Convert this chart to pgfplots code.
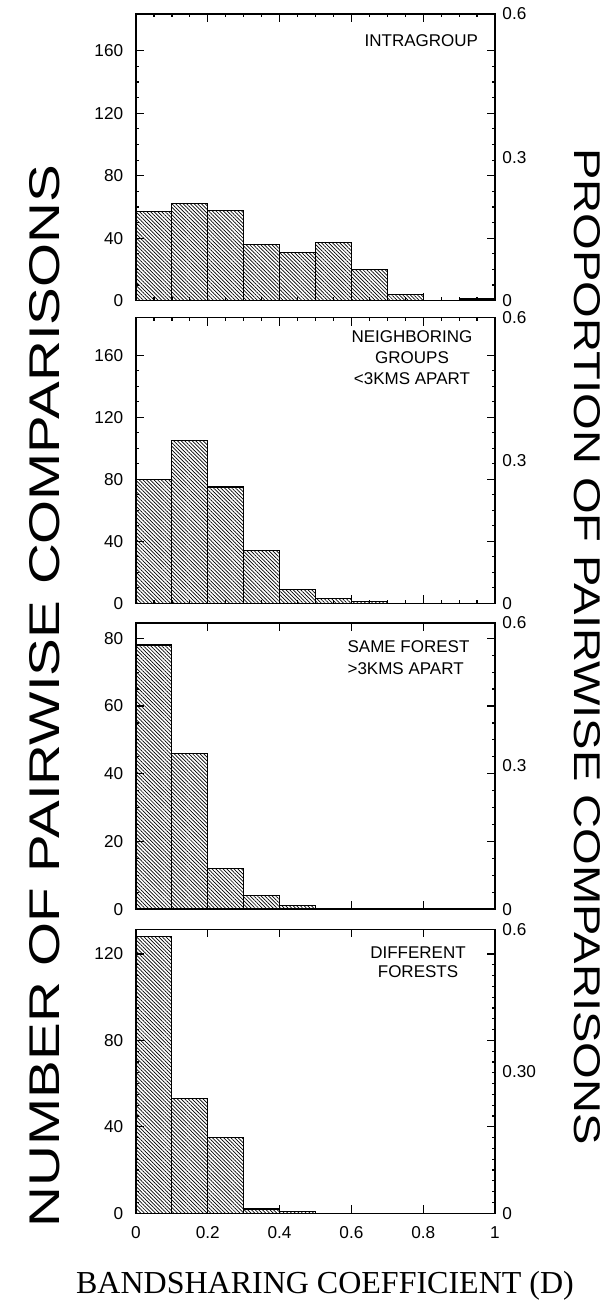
\documentclass[border=0pt]{standalone}
\usepackage{pgfplots}
\pgfplotsset{compat=1.18}
\usepackage{graphicx}
\usepackage{fontspec}
\setmainfont{Liberation Sans}
\newfontfamily\labelserif{Liberation Serif}
\usetikzlibrary{patterns.meta}

\pgfplotsset{
  panel/.style={
    scale only axis, width=179.5pt, anchor=north west,
    xmin=0, xmax=1, ymin=0,
    line width=0.8pt,
    every tick/.style={black, line width=0.6pt},
    major tick length=4pt, minor tick length=1.6pt,
    tick align=inside,
    xtick={0,0.2,0.4,0.6,0.8,1}, xticklabels={},
    /pgf/number format/assume math mode=true,
    tick label style={font=\fontsize{8.6pt}{10pt}\selectfont},
    yticklabel style={xshift=-2.7pt},
    xticklabel style={yshift=-3pt},
  },
  prop/.style={
    scale only axis, width=179.5pt, anchor=north west,
    xmin=0, xmax=1, ymin=0, ymax=0.6,
    axis x line=none, axis y line*=right,
    line width=0.8pt,
    ytick={0,0.3,0.6}, major tick length=0pt,
    tick label style={font=\fontsize{8.6pt}{10pt}\selectfont},
  },
  bars/.style={
    ybar interval, draw=black, line width=0.55pt,
    pattern={Lines[angle=-45, distance=1.3pt, line width=0.35pt]},
  },
}

\begin{document}
\begin{tikzpicture}
\path[use as bounding box] (0,0) rectangle (307.5pt,-652pt);

% Intragroup comparisons (N = 306)
\begin{axis}[panel, at={(68pt,-7pt)}, height=143.3pt, ymax=183.6,
  ytick={0,40,80,120,160}, minor y tick num=3, minor x tick num=3]
\addplot[bars] coordinates {(0,57) (0.1,62) (0.2,58) (0.3,36) (0.4,31)
  (0.5,37) (0.6,20) (0.7,4) (0.8,0) (0.9,1) (1.0,1)};
\end{axis}
\begin{axis}[prop, at={(68pt,-7pt)}, height=143.3pt, yticklabels={0,0.3,0.6}]
\end{axis}

% Neighboring groups (N = 307)
\begin{axis}[panel, at={(68pt,-158.85pt)}, height=142.8pt, ymax=184.2,
  ytick={0,40,80,120,160}, minor y tick num=3, minor x tick num=3]
\addplot[bars] coordinates {(0,80) (0.1,105) (0.2,75) (0.3,34) (0.4,9)
  (0.5,3) (0.6,1) (0.7,1)};
\end{axis}
\begin{axis}[prop, at={(68pt,-158.85pt)}, height=142.8pt, yticklabels={0,0.3,0.6}]
\end{axis}

% Same forest (N = 141)
\begin{axis}[panel, at={(68pt,-311.35pt)}, height=143.2pt, ymax=84.6,
  ytick={0,20,40,60,80}, minor y tick num=3]
\addplot[bars] coordinates {(0,78) (0.1,46) (0.2,12) (0.3,4) (0.4,1) (0.5,1)};
\end{axis}
\begin{axis}[prop, at={(68pt,-311.35pt)}, height=143.2pt, yticklabels={0,0.3,0.6}]
\end{axis}

% Different forests (N = 219)
\begin{axis}[panel, at={(68pt,-464.65pt)}, height=142pt, ymax=131.4,
  ytick={0,40,80,120}, minor y tick num=7,
  xticklabels={0,0.2,0.4,0.6,0.8,1}]
\addplot[bars] coordinates {(0,128) (0.1,53) (0.2,35) (0.3,2) (0.4,1) (0.5,1)};
\end{axis}
\begin{axis}[prop, at={(68pt,-464.65pt)}, height=142pt, yticklabels={0,0.30,0.6}]
\end{axis}

% panel captions
\begin{scope}[every node/.style={inner sep=0pt, font=\fontsize{8.5pt}{10pt}\selectfont}]
\node[anchor=base east] at (239.2pt,-23.35pt) {INTRAGROUP};
\node[anchor=base] at (206pt,-171.35pt) {NEIGHBORING};
\node[anchor=base] at (206pt,-182pt) {GROUPS};
\node[anchor=base] at (206pt,-192.35pt) {<3KMS APART};
\node[anchor=base west] at (173.6pt,-326.35pt) {SAME FOREST};
\node[anchor=base west] at (173.6pt,-337pt) {>3KMS APART};
\node[anchor=base] at (209pt,-479pt) {DIFFERENT};
\node[anchor=base] at (209pt,-488.85pt) {FORESTS};
\end{scope}

% axis titles
\node[rotate=90, inner sep=0pt] at (22.5pt,-348pt)
  {\resizebox{531pt}{15pt}{NUMBER OF PAIRWISE COMPARISONS}};
\node[rotate=-90, inner sep=0pt] at (293.5pt,-323.25pt)
  {\resizebox{498pt}{13pt}{PROPORTION OF PAIRWISE COMPARISONS}};
\node[anchor=base, inner sep=0pt] at (162.5pt,-646.6pt)
  {\labelserif\fontsize{16pt}{18pt}\selectfont BANDSHARING COEFFICIENT (D)};
\end{tikzpicture}
\end{document}
